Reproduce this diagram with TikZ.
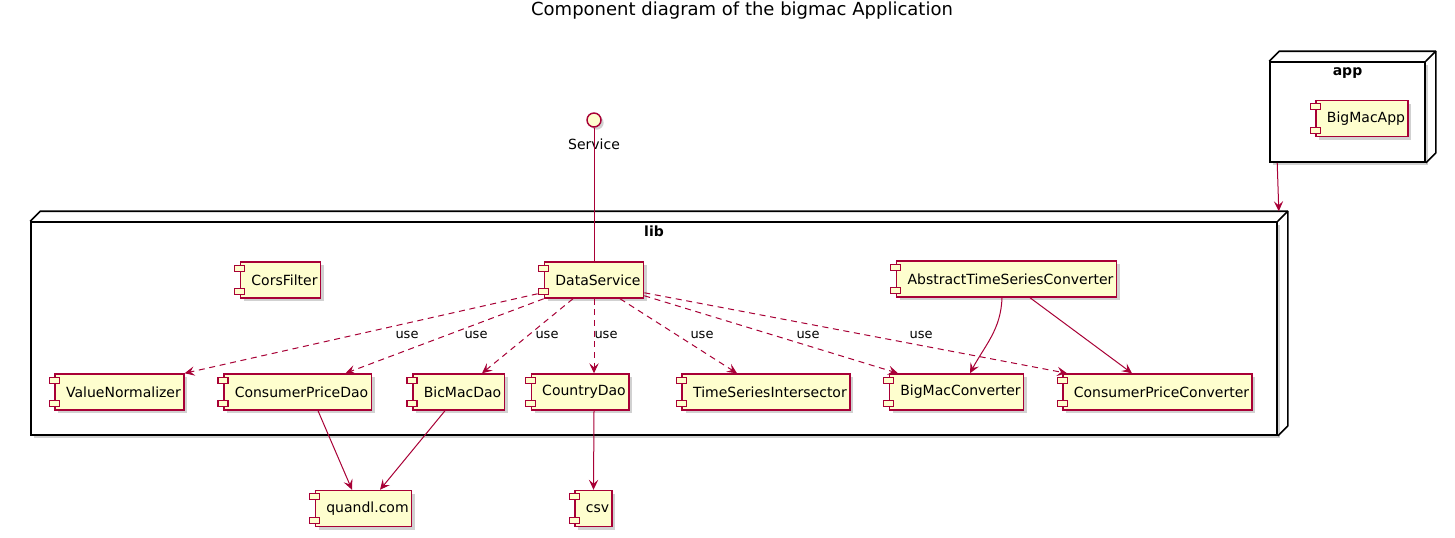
\documentclass[tikz,border=0pt]{standalone}
\usepackage{fontspec}
\setmainfont{DejaVu Sans}
\usetikzlibrary{positioning,shadows,arrows.meta,calc}

\definecolor{umlred}{HTML}{A80036}
\definecolor{umlfill}{HTML}{FEFECE}

\tikzset{
	comp/.style={draw=umlred, line width=1.1pt, fill=umlfill, minimum height=27pt, inner xsep=2.25pt,
		font=\fontsize{10.5}{12.6}\selectfont, execute at begin node={\hspace*{6pt}},
		drop shadow={shadow xshift=2.5pt, shadow yshift=-2.5pt, fill=black!45, opacity=.4}},
	comptab/.style={draw=umlred, line width=0.9pt, fill=umlfill},
	pkg/.style={draw=black, line width=1.2pt, fill=white, inner sep=0pt,
		drop shadow={shadow xshift=2.5pt, shadow yshift=-2.5pt, fill=black!45, opacity=.4}},
	pkgside/.style={draw=black, line width=1.2pt, line join=round},
	pkgname/.style={font=\fontsize{10.5}{12.6}\selectfont\bfseries, inner sep=0pt, anchor=base},
	iface/.style={circle, draw=umlred, line width=1.1pt, fill=umlfill, minimum size=10.5pt, inner sep=0pt,
		drop shadow={shadow xshift=2pt, shadow yshift=-2pt, fill=black!45, opacity=.4}},
	link/.style={draw=umlred, line width=0.75pt},
	dep/.style={link, -{Stealth[length=7.5pt, width=7pt, inset=3pt]}},
	use/.style={dep, dash pattern=on 4.5pt off 3.5pt},
	uselabel/.style={font=\fontsize{9.75}{11.7}\selectfont, inner sep=1pt},
}

\begin{document}
\begin{tikzpicture}[x=0.75pt, y=-0.75pt]
	\useasboundingbox (0,0) rectangle (1455,537);

	\node[font=\fontsize{13.5}{16}\selectfont] (title) at (742,11) {Component diagram of the bigmac Application};

	% packages
	\node[pkg, minimum width=1246*0.75pt, minimum height=213*0.75pt] (lib) at (654,328.5) {};
	\draw[pkgside] (lib.north west) -- ++(10,-10) -- ($(lib.north east)+(10,-10)$) -- ($(lib.south east)+(10,-10)$) -- (lib.south east);
	\draw[pkgside] (lib.north east) -- ++(10,-10);
	\node[pkgname] (libname) at ([yshift=-11.25pt]lib.north) {lib};

	\node[pkg, minimum width=155*0.75pt, minimum height=100*0.75pt] (app) at (1347.5,112) {};
	\draw[pkgside] (app.north west) -- ++(10,-10) -- ($(app.north east)+(10,-10)$) -- ($(app.south east)+(10,-10)$) -- (app.south east);
	\draw[pkgside] (app.north east) -- ++(10,-10);
	\node[pkgname] (appname) at ([yshift=-11pt]app.north) {app};

	% components
	\node[comp] (bigmacapp) at (1362,118.5) {BigMacApp};
	\node[comp] (corsfilter) at (280.5,280) {CorsFilter};
	\node[comp] (dataservice) at (594,280) {DataService};
	\node[comp] (atsc) at (1006.5,279) {AbstractTimeSeriesConverter};
	\node[comp] (valuenorm) at (119.5,392) {ValueNormalizer};
	\node[comp] (cpdao) at (297.5,392) {ConsumerPriceDao};
	\node[comp] (bmdao) at (458.5,392) {BicMacDao};
	\node[comp] (countrydao) at (580,392) {CountryDao};
	\node[comp] (tsi) at (766,392) {TimeSeriesIntersector};
	\node[comp] (bmconv) at (956.5,392) {BigMacConverter};
	\node[comp] (cpconv) at (1157.5,392) {ConsumerPriceConverter};
	\node[comp] (quandl) at (363.5,508.5) {quandl.com};
	\node[comp] (csv) at (593.5,508.5) {csv};

	\foreach \c in {bigmacapp, corsfilter, dataservice, atsc, valuenorm, cpdao, bmdao, countrydao, tsi, bmconv, cpconv, quandl, csv} {
		\draw[comptab] ([xshift=-3.75pt, yshift=-3pt]\c.north west) rectangle ++(7.5pt,-4.5pt);
		\draw[comptab] ([xshift=-3.75pt, yshift=3pt]\c.south west) rectangle ++(7.5pt,4.5pt);
	}

	% interface
	\node[iface, label={[font=\fontsize{10.5}{12.6}\selectfont, inner sep=1pt, label distance=7pt]below:Service}] (service) at (594,120) {};

	% connectors
	\draw[link] (service.south) -- (dataservice.north);
	\draw[dep] ($(app.south west)+(8,0)$) -- ($(lib.north east)+(1,-10)$);

	\draw[use] ($(dataservice.south west)+(-6,-5)$) -- (valuenorm.north east) node[uselabel] at (407,335) {use};
	\draw[use] (dataservice.south west) -- ($(cpdao.north)+(48,0)$) node[uselabel] at (476,335) {use};
	\draw[use] ($(dataservice.south)+(-21,0)$) -- ($(bmdao.north)+(23.5,0)$) node[uselabel] at (547,335) {use};
	\draw[use] (dataservice.south) -- ($(countrydao.north)+(14,0)$) node[uselabel] at (606,335) {use};
	\draw[use] ($(dataservice.south)+(26,0)$) -- ($(tsi.north)+(-29,0)$) node[uselabel] at (702,335) {use};
	\draw[use] ($(dataservice.south east)+(0,-3)$) -- ($(bmconv.north)+(-58.5,0)$) node[uselabel] at (808,335) {use};
	\draw[use] ($(dataservice.south east)+(0,-6)$) -- ($(cpconv.north)+(-90.5,0)$) node[uselabel] at (921,335) {use};

	\draw[dep] ($(atsc.south)+(-4.5,0)$) to[out=-92, in=62] ($(bmconv.north)+(13.5,0)$);
	\draw[dep] ($(atsc.south)+(23.5,0)$) -- ($(cpconv.north)+(-25.5,0)$);

	\draw[dep] ($(cpdao.south)+(20.5,0)$) -- ($(quandl.north)+(-11.5,0)$);
	\draw[dep] ($(bmdao.south)+(-13.5,0)$) -- ($(quandl.north)+(16.5,0)$);
	\draw[dep] ($(countrydao.south)+(14,0)$) -- (csv.north);
\end{tikzpicture}
\end{document}
